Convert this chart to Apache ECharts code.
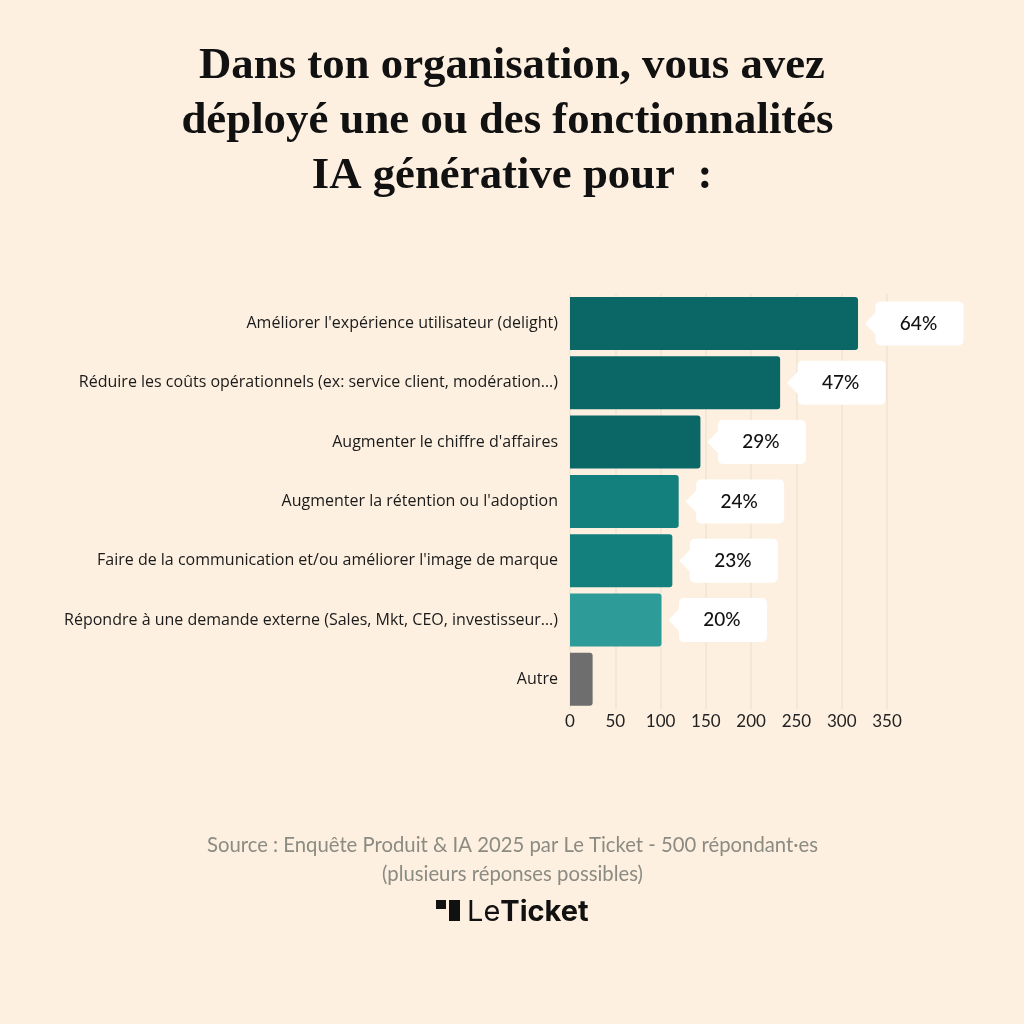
<!DOCTYPE html>
<html><head><meta charset="utf-8">
<style>html,body{margin:0;padding:0;background:#fdf0e0}#c{width:1024px;height:1024px}</style>
<script src="https://cdn.jsdelivr.net/npm/echarts@6/dist/echarts.min.js"></script>
</head><body><div id="c"></div>
<script>
const titleLines = ["Dans ton organisation, vous avez", "déployé une ou des fonctionnalités", "IA générative pour  :"];
const categories = ["Améliorer l'expérience utilisateur (delight)",
  "Réduire les coûts opérationnels (ex: service client, modération…)",
  "Augmenter le chiffre d'affaires",
  "Augmenter la rétention ou l'adoption",
  "Faire de la communication et/ou améliorer l'image de marque",
  "Répondre à une demande externe (Sales, Mkt, CEO, investisseur…)",
  "Autre"];
const values = [318, 232, 144, 120, 113, 101, 25];
const percents = ["64%", "47%", "29%", "24%", "23%", "20%", ""];
const colors = ["#0a6766", "#0a6766", "#0a6766", "#14807d", "#14807d", "#2d9c98", "#6e6e6e"];
const xTicks = [0, 50, 100, 150, 200, 250, 300, 350];
const sourceLines = ["Source : Enquête Produit & IA 2025 par Le Ticket - 500 répondant·es", "(plusieurs réponses possibles)"];

const sans = "Lato";
const serifStyle = {fontFamily: 'Liberation Serif', fontWeight: 'bold', fontSize: 44.8, color: '#111', lineHeight: 55};
const chart = echarts.init(document.getElementById('c'), null, {renderer: 'canvas'});
chart.setOption({
  animation: false,
  backgroundColor: '#fdf0e0',
  title: [
    {text: titleLines[0], left: 507, top: 34, textAlign: 'center', textStyle: serifStyle},
    {text: titleLines[1], left: 502.5, top: 89, textAlign: 'center', textStyle: serifStyle},
    {text: titleLines[2], left: 507, top: 144, textAlign: 'center', textStyle: serifStyle},
    {text: sourceLines.join('\n'), left: 507.5, top: 826, textAlign: 'center',
     textStyle: {fontFamily: sans, fontWeight: 'normal', fontSize: 20.3, color: '#8b8b83', lineHeight: 29}}
  ],
  grid: {left: 570, top: 293.8, width: 317, height: 415.2, containLabel: false},
  xAxis: {type: 'value', min: 0, max: 350, interval: 50,
    axisLine: {show: false}, axisTick: {show: false},
    splitLine: {show: true, lineStyle: {color: '#efe4d3', width: 1.5}},
    axisLabel: {fontFamily: sans, fontSize: 17, color: '#222', margin: 4,
      customValues: xTicks, formatter: v => String(v)}},
  yAxis: {type: 'category', inverse: true, data: categories,
    axisLine: {show: false}, axisTick: {show: false},
    axisLabel: {fontFamily: 'Open Sans', fontSize: 16, color: '#1a1a1a', margin: 12, width: 540, overflow: 'none'}},
  series: [
    {type: 'bar', barWidth: 53,
     data: values.map((v, i) => ({value: v, itemStyle: {color: colors[i], borderRadius: [0, 3, 3, 0]}}))},
    {type: 'custom', silent: true, z: 5,
     encode: {x: 0, y: 1},
     data: values.map((v, i) => [v, i, percents[i]]).filter(d => d[2]),
     renderItem: (params, api) => {
       const p = api.coord([api.value(0), api.value(1)]);
       const x = p[0], y = p[1];
       const boxL = x + 17.5, w = 88, h = 44;
       return {type: 'group', children: [
         {type: 'polygon', shape: {points: [[x + 7, y], [boxL + 2, y - 13], [boxL + 2, y + 13]]},
          style: {fill: '#fff'}},
         {type: 'rect', shape: {x: boxL, y: y - h / 2, width: w, height: h, r: 5}, style: {fill: '#fff'}},
         {type: 'text', style: {text: percents[api.value(1)], x: boxL + w / 2 - 1, y: y, align: 'center', verticalAlign: 'middle',
           font: '500 19px ' + sans, fill: '#111'}}
       ]};
     }}
  ],
  graphic: [
    {type: 'rect', shape: {x: 436, y: 900, width: 10, height: 9}, style: {fill: '#111'}},
    {type: 'rect', shape: {x: 449, y: 900, width: 11, height: 21}, style: {fill: '#111'}},
    {type: 'text', x: 467, y: 912, style: {
      rich: {a: {font: '400 29px Inter', fill: '#111'}, b: {font: '700 29px Inter', fill: '#111'}},
      text: '{a|Le}{b|Ticket}', verticalAlign: 'middle', align: 'left'}}
  ]
});
</script></body></html>
